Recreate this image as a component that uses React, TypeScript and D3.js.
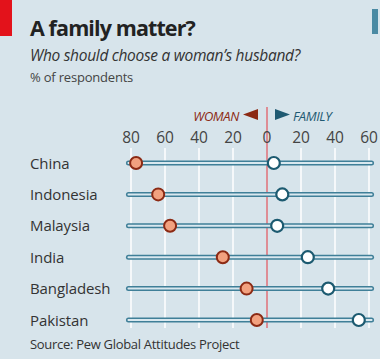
import React from "react";
import * as d3 from "d3";

const countries = ["China", "Indonesia", "Malaysia", "India", "Bangladesh", "Pakistan"];
const womanValues = [77, 64, 57, 26, 12, 6];
const familyValues = [4, 9, 6, 24, 36, 54];
const tickValues = [-80, -60, -40, -20, 0, 20, 40, 60];
const tickLabels = ["80", "60", "40", "20", "0", "20", "40", "60"];

const W = 380;
const H = 359;
const font = "'Open Sans', 'DejaVu Sans', sans-serif";

export default function App() {
  const x = d3.scaleLinear().domain([-80, 60]).range([131, 369]);
  const y = d3.scalePoint<string>().domain(countries).range([163, 320]);
  const trackL = x(-81.5);
  const trackR = x(61.5);
  const z = x(0);

  return (
    <svg width={W} height={H} style={{ position: "absolute", left: 0, top: 0 }}>
      <rect x={0} y={0} width={W} height={H} fill="#d7e4eb" />
      <rect x={0} y={0} width={12} height={36} fill="#e3121b" />
      <rect x={372} y={9} width={6} height={25} fill="#4a8aa3" />
      <text x={30} y={35.5} fontFamily={font} fontWeight={700} fontSize={21.5} fill="#222" letterSpacing={-0.9}>
        A family matter?
      </text>
      <text x={30} y={61} fontFamily={font} fontStyle="italic" fontSize={15.5} fill="#333" letterSpacing={-0.3}>
        Who should choose a woman’s husband?
      </text>
      <text x={30} y={81.5} fontFamily={font} fontSize={13} fill="#444" letterSpacing={-0.2}>
        % of respondents
      </text>

      {/* grid */}
      {tickValues.map((t) =>
        t === 0 ? null : (
          <line key={t} x1={x(t)} x2={x(t)} y1={148} y2={328} stroke="#ffffff" strokeWidth={1.5} />
        )
      )}
      <line x1={z} x2={z} y1={107} y2={328} stroke="#e07078" strokeWidth={1.5} />

      {/* legend */}
      <text x={z - 28} y={120.5} textAnchor="end" fontFamily={font} fontStyle="italic" fontSize={13} fill="#8c2a14" letterSpacing={-0.4}>
        WOMAN
      </text>
      <path d={`M${z - 9},${109} L${z - 9},${120} L${z - 24},${114.5} Z`} fill="#8c2a14" />
      <path d={`M${z + 8},${109} L${z + 8},${120} L${z + 23},${114.5} Z`} fill="#1f5a72" />
      <text x={z + 26} y={120.5} fontFamily={font} fontStyle="italic" fontSize={13} fill="#1f5a72" letterSpacing={-0.4}>
        FAMILY
      </text>

      {/* tick labels */}
      {tickValues.map((t, i) => (
        <text key={t} x={x(t)} y={142.5} textAnchor="middle" fontFamily={font} fontSize={15.5} fill="#444">
          {tickLabels[i]}
        </text>
      ))}

      {countries.map((c, i) => {
        const cy = y(c) as number;
        return (
          <g key={c}>
            <text x={30} y={cy + 5.5} fontFamily={font} fontSize={15} fill="#333" letterSpacing={-0.1}>
              {c}
            </text>
            <line x1={trackL} x2={trackR} y1={cy} y2={cy} stroke="#3f7f98" strokeWidth={5} strokeLinecap="round" />
            <line x1={trackL} x2={trackR} y1={cy} y2={cy} stroke="#d9e8ef" strokeWidth={2} strokeLinecap="round" />
            <circle cx={x(-womanValues[i])} cy={cy} r={6} fill="#f2a17f" stroke="#8c2a14" strokeWidth={2} />
            <circle cx={x(familyValues[i])} cy={cy} r={6} fill="#ffffff" stroke="#1c5a70" strokeWidth={2.2} />
          </g>
        );
      })}

      <text x={30} y={349} fontFamily={font} fontSize={13} fill="#333" letterSpacing={-0.3}>
        Source: Pew Global Attitudes Project
      </text>
    </svg>
  );
}
